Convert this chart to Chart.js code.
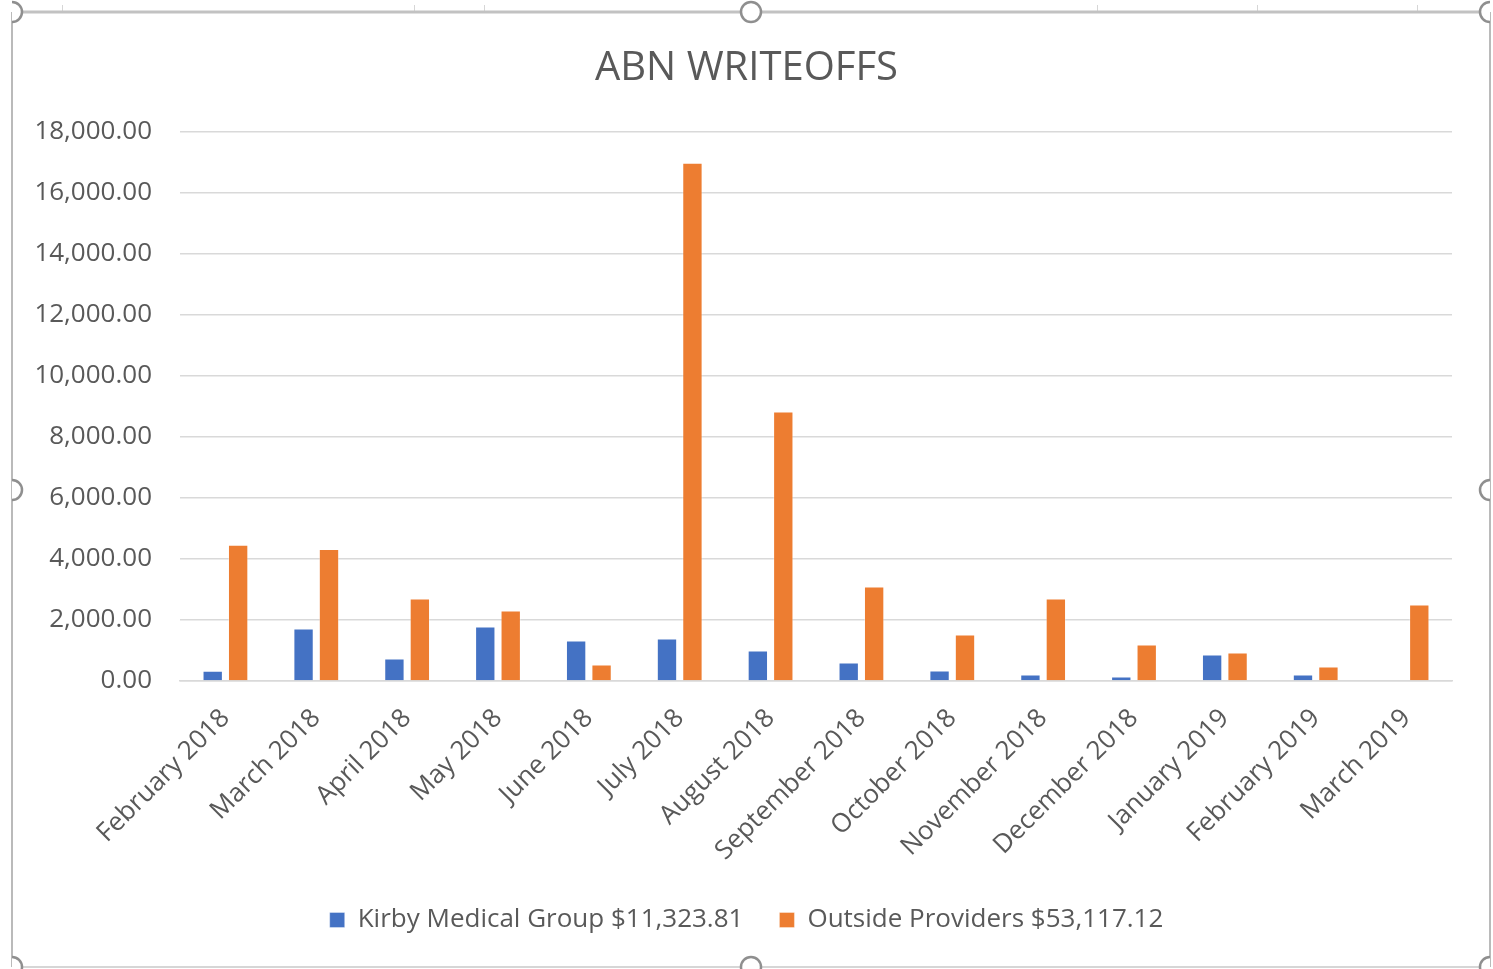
<!DOCTYPE html>
<html>
<head>
<meta charset="utf-8">
<title>ABN WRITEOFFS</title>
<script src="https://cdn.jsdelivr.net/npm/chart.js@4/dist/chart.umd.min.js"></script>
<style>
  html, body { margin: 0; padding: 0; background: #ffffff; }
  #wrap { width: 1493px; height: 969px; position: relative; }
</style>
</head>
<body>
<div id="wrap"><canvas id="chart" width="1493" height="969"></canvas></div>
<script>
// Reporting months
const months = [
  'February 2018', 'March 2018', 'April 2018', 'May 2018', 'June 2018',
  'July 2018', 'August 2018', 'September 2018', 'October 2018',
  'November 2018', 'December 2018', 'January 2019', 'February 2019', 'March 2019'
];

// Monthly write-offs, Kirby Medical Group
const kirbyValues = [340, 1718, 734, 1784, 1325, 1390, 997, 603, 341, 210, 144, 866, 210, 0];

// Monthly write-offs, outside providers
const outsideValues = [4470, 4328, 2702, 2308, 538, 16990, 8840, 3095, 1521, 2702, 1193, 931, 472, 2505];

// Series names as shown in the legend
const seriesNames = ['Kirby Medical Group $11,323.81', 'Outside Providers $53,117.12'];

// Value axis range
const yMin = 0;
const yMax = 18000;
const yStep = 2000;

const TEXT = '#595959';
const GRID = '#d9d9d9';
const FONT = '"Open Sans", "Noto Sans", sans-serif';

// Selection frame with resize handles around the chart object
const framePlugin = {
  id: 'frame',
  afterDraw(chart) {
    const ctx = chart.ctx;
    const L = 12, T = 12, R = 1490, B = 967;
    ctx.save();
    // small cell-grid ticks above the frame
    ctx.strokeStyle = '#d6d6d6';
    ctx.lineWidth = 1;
    [62, 414, 484, 1097, 1257, 1417].forEach(x => {
      ctx.beginPath(); ctx.moveTo(x + 0.5, 5); ctx.lineTo(x + 0.5, 12); ctx.stroke();
    });
    // frame edges
    ctx.strokeStyle = '#c2c2c2';
    ctx.lineWidth = 3;
    ctx.beginPath(); ctx.moveTo(L, T); ctx.lineTo(R, T); ctx.stroke();
    ctx.strokeStyle = '#a3a3a3';
    ctx.lineWidth = 1.5;
    ctx.beginPath(); ctx.moveTo(L, T); ctx.lineTo(L, B); ctx.stroke();
    ctx.beginPath(); ctx.moveTo(R, T); ctx.lineTo(R, B); ctx.stroke();
    ctx.strokeStyle = '#c8c8c8';
    ctx.lineWidth = 1.5;
    ctx.beginPath(); ctx.moveTo(L, B); ctx.lineTo(R, B); ctx.stroke();
    // handles, clipped to the frame's horizontal extent
    ctx.beginPath(); ctx.rect(L, 0, R - L, 969); ctx.clip();
    const midX = 751, midY = 490;
    const handles = [[L, T], [midX, T], [R, T], [L, midY], [R, midY], [L, B], [midX, B], [R, B]];
    handles.forEach(([x, y]) => {
      ctx.beginPath();
      ctx.arc(x, y, 10, 0, Math.PI * 2);
      ctx.fillStyle = '#ffffff';
      ctx.fill();
      ctx.lineWidth = 2.5;
      ctx.strokeStyle = '#8f8f8f';
      ctx.stroke();
    });
    ctx.restore();
  }
};

const ctx = document.getElementById('chart').getContext('2d');
new Chart(ctx, {
  type: 'bar',
  data: {
    labels: months,
    datasets: [
      {
        label: seriesNames[0],
        data: kirbyValues,
        yAxisID: 'y',
        backgroundColor: '#4472C4',
        borderColor: 'rgba(255,255,255,0.35)',
        borderWidth: 1,
        categoryPercentage: 0.56,
        barPercentage: 0.8
      },
      {
        label: seriesNames[1],
        data: outsideValues,
        yAxisID: 'y',
        backgroundColor: '#ED7D31',
        borderColor: 'rgba(255,255,255,0.35)',
        borderWidth: 1,
        categoryPercentage: 0.56,
        barPercentage: 0.8
      }
    ]
  },
  options: {
    responsive: false,
    animation: false,
    layout: { padding: { left: 0, right: 0, top: 0, bottom: 26 } },
    plugins: {
      title: {
        display: true,
        text: 'ABN WRITEOFFS',
        color: TEXT,
        font: { family: FONT, size: 40, weight: 'normal', lineHeight: 1.2 },
        padding: { top: 45, bottom: 39 }
      },
      legend: {
        position: 'bottom',
        labels: {
          color: TEXT,
          font: { family: FONT, size: 26 },
          boxWidth: 15,
          boxHeight: 15,
          padding: 36
        }
      },
      tooltip: { enabled: false }
    },
    scales: {
      x: {
        grid: { display: false, drawTicks: false },
        border: { display: true, color: GRID, width: 1.5 },
        ticks: {
          color: TEXT,
          font: { family: FONT, size: 26 },
          maxRotation: 45,
          minRotation: 45,
          autoSkip: false,
          padding: 22
        },
        afterFit(scale) { scale.height = 190; }
      },
      y: {
        position: 'left',
        min: yMin,
        max: yMax,
        grid: { color: GRID, lineWidth: 1.5, drawTicks: false },
        border: { display: false },
        ticks: {
          stepSize: yStep,
          color: TEXT,
          font: { family: FONT, size: 26 },
          padding: 28,
          callback: v => Number(v).toLocaleString('en-US', { minimumFractionDigits: 2, maximumFractionDigits: 2 })
        },
        afterFit(scale) { scale.width = 180; }
      },
      // blank margin on the right of the plot
      yRight: {
        position: 'right',
        min: yMin,
        max: yMax,
        grid: { drawOnChartArea: false, drawTicks: false },
        border: { display: false },
        ticks: { display: false },
        afterFit(scale) { scale.width = 41; }
      }
    }
  },
  plugins: [framePlugin]
});
</script>
</body>
</html>
